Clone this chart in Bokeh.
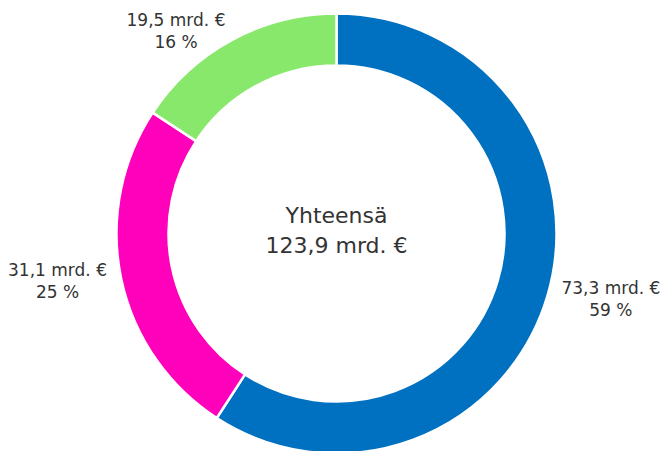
import math
from bokeh.plotting import figure
from bokeh.models import Range1d, ColumnDataSource
from bokeh.core.properties import value
from bokeh.embed import file_html
from bokeh.resources import INLINE

# --- data ---
categories = ["A", "B", "C"]
values = [73.3, 31.1, 19.5]          # mrd. €
percents = [59, 25, 16]
colors = ["#0070C0", "#FF00BB", "#88E86B"]
total_label = "Yhteensä"
total_value = "123,9 mrd. €"

W, H = 670, 451
cx, cy = 336, 233  # center in pixels from top-left of figure
outer_r, inner_r = 220, 168

p = figure(width=W, height=H, output_backend="svg", toolbar_location=None,
           x_range=Range1d(-cx, W - cx), y_range=Range1d(-(H - cy), cy),
           x_axis_type=None, y_axis_type=None, min_border=0)
p.grid.visible = False
p.outline_line_color = None
p.background_fill_color = "white"
p.border_fill_color = "white"

total = sum(values)
starts, ends, mids = [], [], []
cum = 0.0
for v in values:
    a0 = math.pi / 2 - 2 * math.pi * cum / total
    cum += v
    a1 = math.pi / 2 - 2 * math.pi * cum / total
    starts.append(a0)
    ends.append(a1)
    mids.append((a0 + a1) / 2)

src = ColumnDataSource(dict(start=starts, end=ends, color=colors))
p.annular_wedge(x=0, y=0, inner_radius=inner_r, outer_radius=outer_r,
                start_angle="start", end_angle="end", direction="clock",
                fill_color="color", line_color="white", line_width=2.5,
                source=src)

def fmt(v):
    return f"{v:.1f}".replace(".", ",") + " mrd. €"

lab_rx, lab_ry = 235, 230
half_w = 49
l1x, l1y, l1t, l2t, l2y = [], [], [], [], []
for v, pc, m in zip(values, percents, mids):
    ax = lab_rx * math.cos(m)
    ay = lab_ry * math.sin(m)
    sign = 1 if ax >= 0 else -1
    bx = ax + sign * half_w
    l1x.append(bx)
    l1y.append(ay + 11)
    l2y.append(ay - 11)
    l1t.append(fmt(v))
    l2t.append(f"{pc} %")

p.text(x=l1x, y=l1y, text=l1t, text_align="center", text_baseline="middle",
       text_font=value("DejaVu Sans"), text_font_size="17px", text_color="#333333")
p.text(x=l1x, y=l2y, text=l2t, text_align="center", text_baseline="middle",
       text_font=value("DejaVu Sans"), text_font_size="17px", text_color="#333333")

p.text(x=[0, 0], y=[18.5, -11.5], text=[total_label, total_value], text_align="center",
       text_baseline="middle", text_font=value("DejaVu Sans"), text_font_size="22px",
       text_color="#333333")

open("out.html", "w").write(file_html(p, INLINE))
